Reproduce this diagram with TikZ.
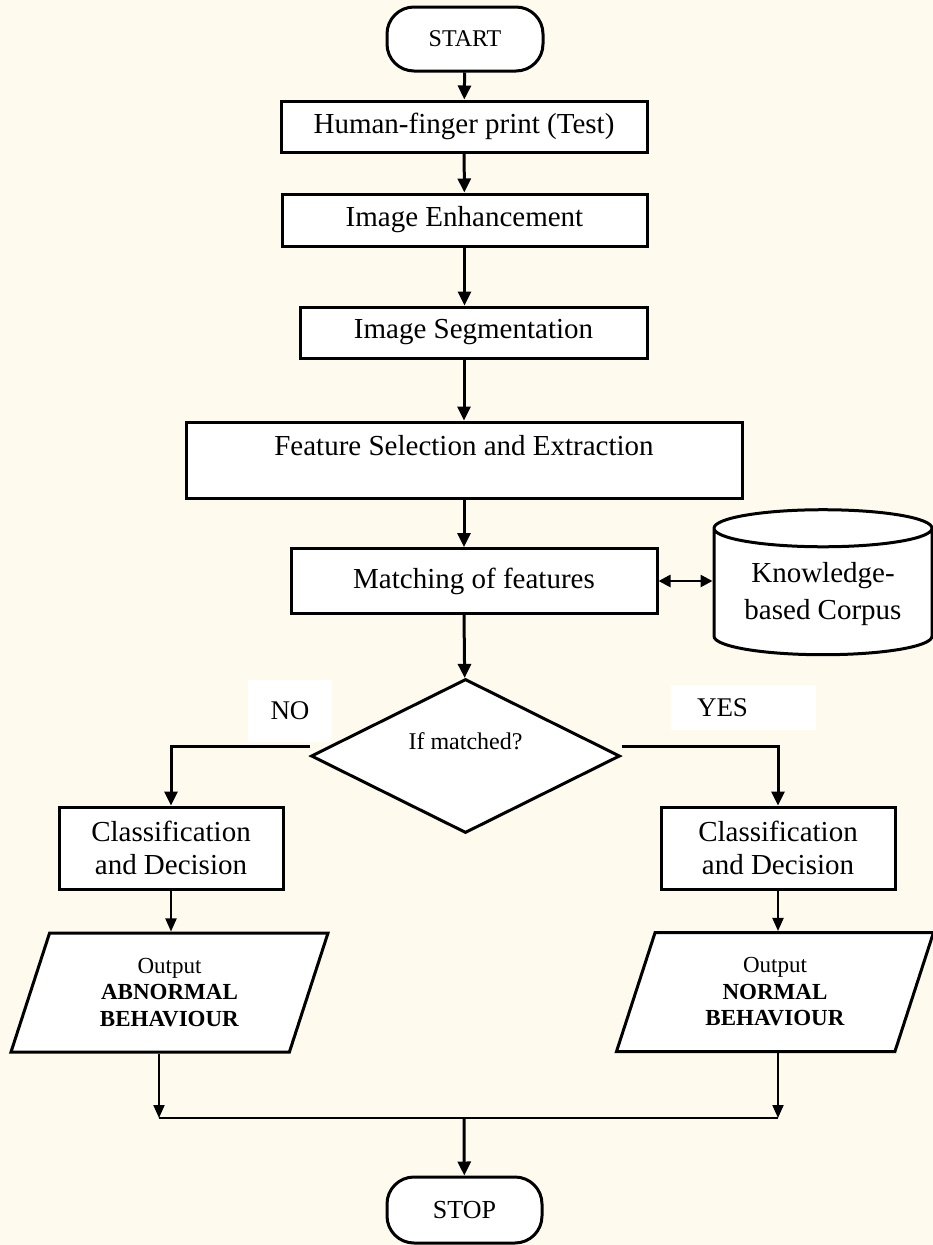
\documentclass[tikz,border=0pt]{standalone}
\usepackage{fontspec}
\setmainfont{Liberation Serif}
\usetikzlibrary{shapes.geometric,arrows.meta}
\definecolor{paper}{RGB}{254,251,238}

\begin{document}
\begin{tikzpicture}[x = 1pt, y = -1pt,
    every node/.style = {draw, line width = 3pt, fill = white, inner sep = 2pt,
        font = \fontsize{29}{34}\selectfont},
    term/.style = {rectangle, rounded corners = 27pt, minimum width = 156pt,
        minimum height = 64pt, font = \fontsize{24}{28}\selectfont},
    box/.style = {rectangle, align = center},
    decision/.style = {diamond, aspect = 2, inner sep = 0pt, minimum width = 309pt,
        minimum height = 154pt, text height = 17pt, text depth = 31pt,
        font = \fontsize{24}{28}\selectfont},
    io/.style = {trapezium, trapezium left angle = 62, trapezium right angle = 118,
        trapezium stretches body, minimum width = 317pt, minimum height = 119pt,
        align = center, font = \fontsize{23}{26.5}\selectfont},
    store/.style = {cylinder, shape border rotate = 90, aspect = 0.23,
        minimum width = 218pt, minimum height = 145pt, align = center,
        font = \fontsize{29}{37}\selectfont},
    tag/.style = {draw = none, font = \fontsize{27}{32}\selectfont},
    flow/.style = {line width = 3pt, -{Triangle[length = 14pt, width = 13pt]}},
    thin flow/.style = {line width = 2pt, -{Triangle[length = 13pt, width = 11pt]}},
    both/.style = {line width = 2.6pt, {Triangle[length = 12pt, width = 12pt]}-{Triangle[length = 12pt, width = 12pt]}},
    merge/.style = {line width = 1.6pt}]

    \fill[paper] (0,0) rectangle (933,1245);
    \useasboundingbox (0,0) rectangle (933,1245);

    \node[term] (start) at (465,39) {START};
    \node[box, minimum width = 366pt, minimum height = 51pt] (print) at (464,126.5) {Human-finger print (Test)};
    \node[box, minimum width = 365pt, minimum height = 52pt] (enhance) at (464.5,220) {Image Enhancement};
    \node[box, minimum width = 347pt, minimum height = 51pt] (segment) at (473.5,332.5) {Image Segmentation};
    \node[box, minimum width = 556pt, minimum height = 76pt, text height = 20pt, text depth = 30pt] (feature) at (464,460) {Feature Selection and Extraction};
    \node[box, minimum width = 366pt, minimum height = 65pt] (match) at (474,581) {Matching of features};
    \node[store] (corpus) at (823,594) {Knowledge-\\based Corpus};
    \node[decision] (check) at (465.5,756) {If matched?};
    \node[tag, minimum width = 84pt, minimum height = 62pt] (no) at (290,711) {NO};
    \node[tag, minimum width = 145pt, minimum height = 45pt, inner xsep = 26pt, text width = 93pt, align = left] (yes) at (743.5,707.5) {YES};
    \node[box, minimum width = 224pt, minimum height = 82pt, font = \fontsize{29}{33}\selectfont] (classl) at (171,848) {Classification\\and Decision};
    \node[box, minimum width = 234pt, minimum height = 82pt, font = \fontsize{29}{33}\selectfont] (classr) at (778,848) {Classification\\and Decision};
    \node[io] (outl) at (169.5,992.5) {Output\\\textbf{ABNORMAL}\\\textbf{BEHAVIOUR}};
    \node[io] (outr) at (775,992) {Output\\\textbf{NORMAL}\\\textbf{BEHAVIOUR}};
    \coordinate (join) at (464,1118);
    \coordinate (dropl) at (159,1118);
    \node[term, minimum width = 155pt, minimum height = 66pt, font = \fontsize{26}{30}\selectfont] (stop) at (464.5,1210) {STOP};

    \draw[flow] (start) -- (print);
    \draw[flow] (print) -- (enhance);
    \draw[flow] (enhance) -- (enhance |- segment.north);
    \draw[flow] (feature |- segment.south) -- (feature);
    \draw[flow] (feature) -- (feature |- match.north);
    \draw[both] (match.east) -- (match.east -| corpus.west);
    \draw[flow] (feature |- match.south) -- (check);
    \draw[flow] ([yshift = 10pt]check.west) -| (classl);
    \draw[flow] ([yshift = 10pt]check.east) -| (classr);
    \draw[thin flow] (classl) -- (classl |- outl.north);
    \draw[thin flow] (classr) -- (classr |- outr.north);
    \draw[thin flow] (dropl |- outl.south) -- (dropl);
    \draw[thin flow] (classr |- outr.south) -- (classr |- join);
    \draw[merge] (dropl) -- (classr |- join);
    \draw[flow] (join) -- (stop);
\end{tikzpicture}
\end{document}
